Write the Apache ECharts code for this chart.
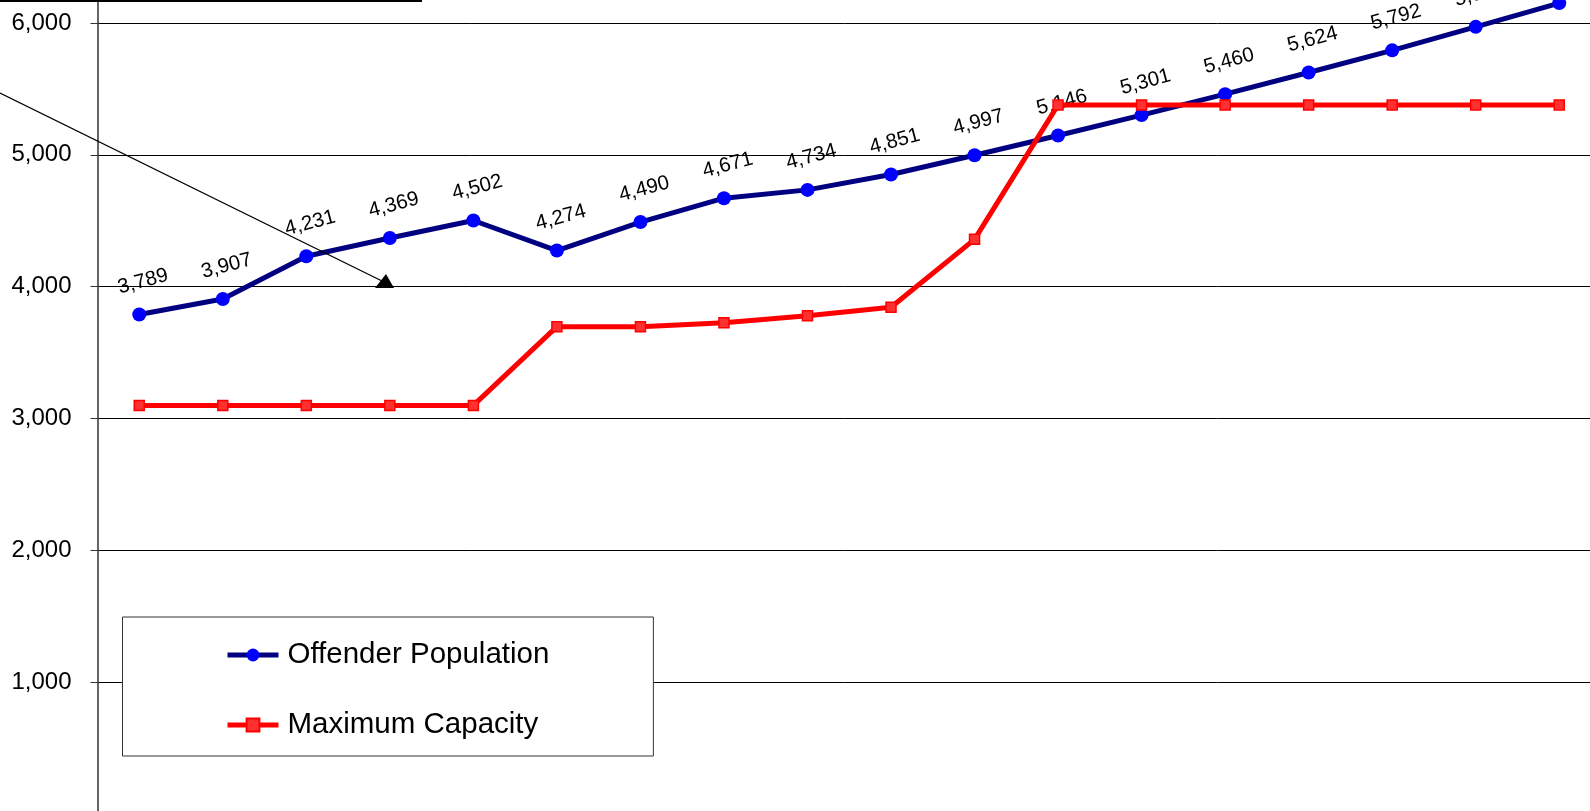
<!DOCTYPE html>
<html>
<head>
<meta charset="utf-8">
<script src="https://cdn.jsdelivr.net/npm/echarts@6/dist/echarts.min.js"></script>
<style>
html,body{margin:0;padding:0;background:#fff;}
#chart{width:1590px;height:811px;}
</style>
</head>
<body>
<div id="chart"></div>
<script>
// ---- data ----
var categories = ['1','2','3','4','5','6','7','8','9','10','11','12','13','14','15','16','17','18'];
var offenderPopulation = [3789, 3907, 4231, 4369, 4502, 4274, 4490, 4671, 4734, 4851, 4997, 5146, 5301, 5460, 5624, 5792, 5970, 6150];
var maximumCapacity = [3100, 3100, 3100, 3100, 3100, 3697, 3697, 3727, 3780, 3844, 4359, 5378, 5378, 5378, 5378, 5378, 5378, 5378];
var seriesNames = ['Offender Population', 'Maximum Capacity'];
var yTicks = [0, 1000, 2000, 3000, 4000, 5000, 6000, 7000];

function fmt(v){ return Number(v).toLocaleString('en-US'); }

var chart = echarts.init(document.getElementById('chart'), null, {renderer:'canvas'});
var FONT = '"Liberation Sans", Arial, sans-serif';

chart.setOption({
  animation: false,
  backgroundColor: '#ffffff',
  textStyle: {fontFamily: FONT},
  grid: {left: 97.5, top: -109, width: 1503.5, height: 923.3, containLabel: false, outerBoundsMode: 'none'},
  xAxis: {
    type: 'category',
    data: categories,
    boundaryGap: true,
    axisLine: {show: false},
    axisTick: {show: false},
    axisLabel: {show: false},
    splitLine: {show: false}
  },
  yAxis: {
    type: 'value',
    min: yTicks[0],
    max: yTicks[yTicks.length - 1],
    interval: 1000,
    axisLine: {show: true, lineStyle: {color: '#333333', width: 1.5}},
    axisTick: {show: true, inside: false, length: 7, lineStyle: {color: '#333333', width: 1}},
    axisLabel: {
      margin: 26,
      fontSize: 24,
      color: '#000000',
      fontFamily: FONT,
      formatter: function(v){ return v === 0 ? '' : fmt(v); }
    },
    splitLine: {show: true, lineStyle: {color: '#000000', width: 1}}
  },
  legend: {
    show: true,
    orient: 'vertical',
    left: 122.5,
    top: 617,
    data: seriesNames,
    backgroundColor: '#ffffff',
    borderColor: '#333333',
    borderWidth: 1,
    padding: [23, 104, 16, 102.5],
    itemGap: 40,
    itemWidth: 51,
    itemHeight: 16,
    lineStyle: {width: 5},
    textStyle: {fontSize: 29.5, lineHeight: 30, color: '#000000', fontFamily: FONT, padding: [0,0,0,4]},
    selectedMode: false
  },
  series: [
    {
      name: seriesNames[0],
      type: 'line',
      data: offenderPopulation,
      z: 3,
      clip: false,
      lineStyle: {color: '#000080', width: 5},
      symbol: 'circle',
      symbolSize: 14,
      itemStyle: {color: '#0000ff', borderColor: '#0000ff', borderWidth: 0},
      label: {
        show: true,
        position: 'top',
        distance: 25,
        offset: [4, 0],
        rotate: 15,
        align: 'center',
        verticalAlign: 'middle',
        fontSize: 20.5,
        color: '#000000',
        fontFamily: FONT,
        formatter: function(p){ return fmt(p.value); }
      }
    },
    {
      name: seriesNames[1],
      type: 'line',
      data: maximumCapacity,
      z: 4,
      clip: false,
      lineStyle: {color: '#ff0000', width: 5},
      symbol: 'rect',
      symbolSize: 10,
      itemStyle: {color: '#ff3030', borderColor: '#ff0000', borderWidth: 1.5},
      label: {show: false}
    }
  ],
  graphic: [
    {type: 'rect', left: 0, top: -1, shape: {x: 0, y: 0, width: 422, height: 3}, style: {fill: '#000000'}, z: 100},
    {type: 'line', shape: {x1: 0, y1: 93, x2: 382, y2: 281}, style: {stroke: '#000000', lineWidth: 1.3}, z: 100},
    {type: 'polygon', shape: {points: [[375, 288], [394, 288], [386, 274]]}, style: {fill: '#000000'}, z: 100}
  ]
});
</script>
</body>
</html>
